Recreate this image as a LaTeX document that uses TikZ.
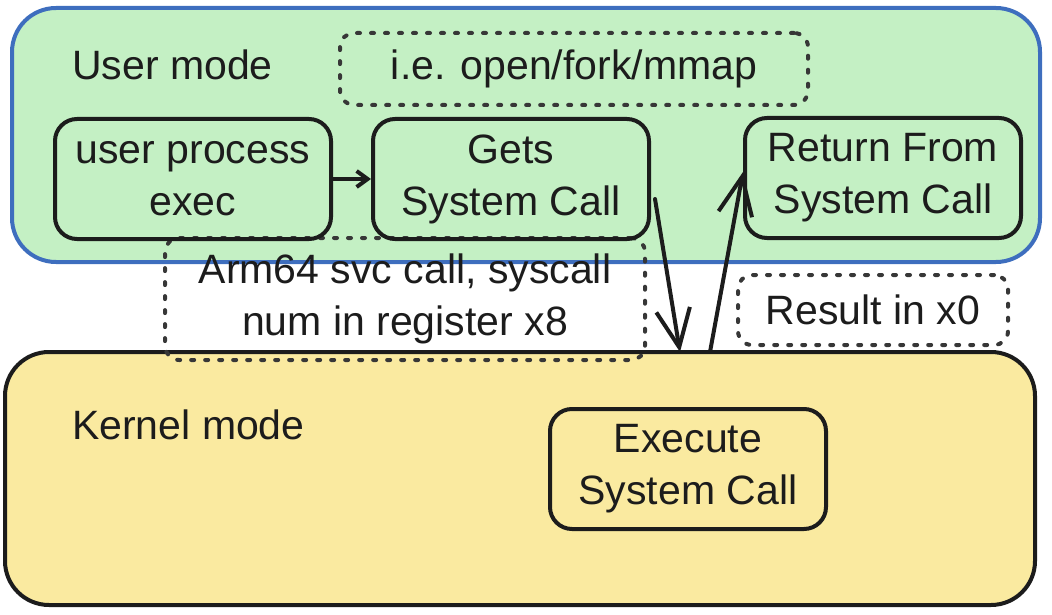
\documentclass[tikz,border=0pt]{standalone}
\usepackage{fontspec}
\setmainfont{Liberation Sans}
\usetikzlibrary{arrows.meta}
\definecolor{usergreen}{RGB}{196,240,196}
\definecolor{kernelyellow}{RGB}{250,234,160}
\definecolor{userblue}{RGB}{62,110,190}
\definecolor{dashgray}{RGB}{55,55,55}
\definecolor{ink}{RGB}{28,28,28}

\begin{document}
\begin{tikzpicture}[x=1pt,y=-1pt]
\tikzstyle{every node}+=[inner sep=0pt, text=ink, font=\fontsize{41}{52}\selectfont]
\tikzstyle{modebox}=[draw, line width=4pt, rounded corners=44pt]
\tikzstyle{stepbox}=[draw=ink, line width=4pt, rounded corners=22pt, minimum width=276pt, minimum height=120pt, align=center]
\tikzstyle{notebox}=[draw=dashgray, line width=4pt, dash pattern=on 3pt off 11pt, line cap=round, rounded corners=14pt, align=center]
\tikzstyle{flow}=[draw=ink, line width=4pt, line cap=round, -{Straight Barb[length=38pt,width=34pt,line width=4pt]}]
\useasboundingbox (0,0) rectangle (1052,615);
% mode regions
\node [modebox, draw=userblue, fill=usergreen, minimum width=1028pt, minimum height=254pt] (user) at (526,135) {};
\node [modebox, draw=ink, fill=kernelyellow, minimum width=1030pt, minimum height=253pt] (kernel) at (520,478.5) {};
\node [anchor=west] (userlbl) at (72,65) {User mode};
\node [anchor=west] (kernellbl) at (72,425) {Kernel mode};
% notes
\node [notebox, minimum width=468pt, minimum height=72pt] (calls) at (574,69) {i.e. open/fork/mmap};
\node [notebox, minimum width=480pt, minimum height=122pt] (svc) at (405,299) {Arm64 svc call, syscall\\num in register x8};
\node [notebox, minimum width=270pt, minimum height=70pt] (result) at (873,310) {Result in x0};
% steps
\node [stepbox] (exec) at (193,179) {user process\\exec};
\node [stepbox] (gets) at (511,179) {Gets\\System Call};
\node [stepbox] (ret) at (883,178) {Return From\\System Call};
\node [stepbox] (run) at (688,469) {Execute\\System Call};
\coordinate (trapin) at (680,352);
\coordinate (trapout) at (710,352);
\draw [flow, -{Straight Barb[length=11pt,width=16pt,line width=4pt]}] (exec) -- (gets);
\draw [flow] ([xshift=4pt,yshift=-20pt]gets.east) -- (trapin);
\draw [flow] (trapout) -- ([yshift=6pt]ret.west);
\end{tikzpicture}
\end{document}
